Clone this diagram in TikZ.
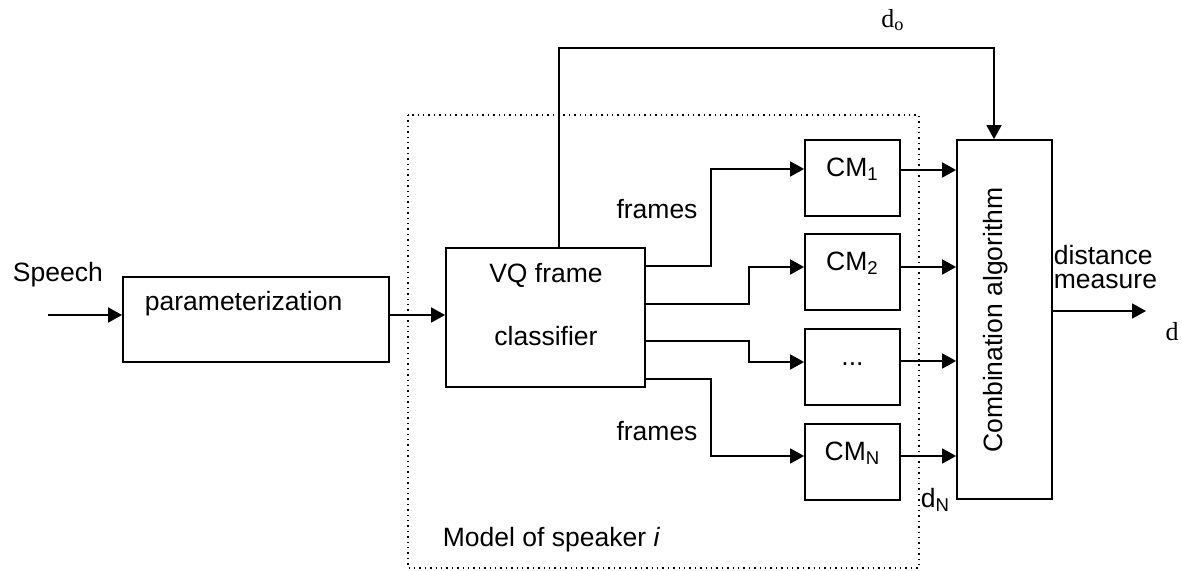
\documentclass[tikz,border=0pt]{standalone}
\usepackage{fontspec}
\setmainfont{Liberation Sans}
\newfontfamily\timesfont{Liberation Serif}
\usetikzlibrary{arrows.meta,calc}

\begin{document}
\begin{tikzpicture}[x=0.5pt, y=-0.5pt, line width=0.9pt,
    font=\fontsize{13.25pt}{15pt}\selectfont,
    box/.style={draw, inner sep=0pt, minimum width=#1},
    cmbox/.style={box=47.5pt, minimum height=38pt, text height=10pt, text depth=11.5pt},
    txt/.style={inner sep=0pt},
    arr/.style={-{Triangle[length=7pt, width=7.5pt]}},
    serif/.style={inner sep=0pt, font=\timesfont\fontsize{13pt}{15pt}\selectfont}]
    \useasboundingbox (0, 0) rectangle (1182, 571);

    \draw [dotted, line width=0.7pt] (408, 115) rectangle (919, 568);

    \node [box=133pt, minimum height=42.5pt] (param) at (256, 319.5) {};
    \node [box=99.5pt, minimum height=69.5pt] (vq) at (545.5, 317.5) {};
    \node [cmbox] (cm1) at (852.5, 178) {CM\textsubscript{1}};
    \node [cmbox] (cm2) at (852.5, 272) {CM\textsubscript{2}};
    \node [cmbox] (cmdots) at (852.5, 367) {...};
    \node [cmbox] (cmN) at (852.5, 462) {CM\textsubscript{N}};
    \node [box=47.5pt, minimum height=179.5pt] (comb) at (1004.5, 319.5) {};

    \node [txt, anchor=west] (speech) at (12, 275) {Speech};
    \node [txt, anchor=west] (paramtext) at (144, 304) {parameterization};
    \node [txt] (vqtop) at (546, 275) {VQ frame};
    \node [txt] (vqbottom) at (546, 336) {classifier};
    \node [txt] (framestop) at (657, 209) {frames};
    \node [txt] (framesbottom) at (657, 431) {frames};
    \node [txt, rotate=90] (combtext) at (996, 320) {Combination algorithm};
    \node [txt, anchor=west, align=left, font=\fontsize{13.25pt}{12pt}\selectfont] (dist) at (1053, 267) {distance\\measure};
    \node [txt, anchor=west] (model) at (442, 540) {Model of speaker \textit{i}};
    \node [txt, anchor=west] (dN) at (920, 500) {d\textsubscript{N}};
    \node [serif] (dzero) at (893, 20) {d\textsubscript{o}};
    \node [serif] (dout) at (1172, 332) {d};

    \coordinate (speechin) at (48, 315);
    \coordinate (outend) at (1146, 311);

    \draw [arr] (speechin) -- ($(param.west) + (0, -4.5)$);
    \draw [arr] ($(param.east) + (0, -4.5)$) -- ($(vq.west) + (0, -2.5)$);

    \draw [arr] ($(vq.north east) + (0, 19)$) -- ++(65, 0) |- ($(cm1.west) + (0, -9)$);
    \draw [arr] ($(vq.north east) + (0, 57)$) -- ++(103, 0) |- ($(cm2.west) + (0, -5)$);
    \draw [arr] ($(vq.north east) + (0, 94)$) -- ++(103, 0) |- ($(cmdots.west) + (0, -5)$);
    \draw [arr] ($(vq.north east) + (0, 132)$) -- ++(65, 0) |- ($(cmN.west) + (0, -6)$);

    \foreach \cm/\dy in {cm1/-8, cm2/-5, cmdots/-6, cmN/-6} {
        \coordinate (o) at ($(\cm.east) + (0, \dy)$);
        \draw [arr] (o) -- (o -| comb.west);
    }

    \draw [arr] ($(vq.north) + (13.5, 0)$) -- ++(0, -199) -| ($(comb.north) + (-10.5, 0)$);
    \draw [arr] ($(comb.east) + (0, -8.5)$) -- (outend);
\end{tikzpicture}
\end{document}
